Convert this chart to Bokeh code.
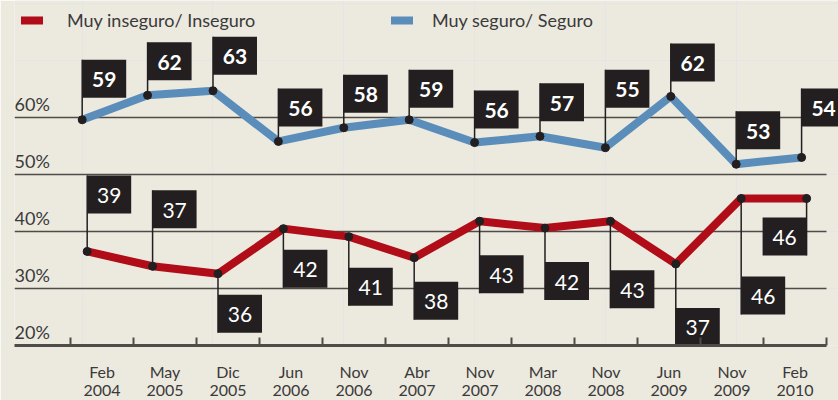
from bokeh.plotting import figure
from bokeh.models import Range1d, LinearAxis, FixedTicker, Legend, LegendItem
from bokeh.embed import file_html
from bokeh.resources import INLINE
from bokeh.core.properties import value

# ---------------- data ----------------
periods = ["Feb\n2004", "May\n2005", "Dic\n2005", "Jun\n2006", "Nov\n2006", "Abr\n2007",
           "Nov\n2007", "Mar\n2008", "Nov\n2008", "Jun\n2009", "Nov\n2009", "Feb\n2010"]
# plotted position of each point (as drawn in the original)
seguro_plot = [59.6, 63.9, 64.7, 55.8, 58.2, 59.6, 55.6, 56.7, 54.7, 63.7, 51.8, 53.0]
inseguro_plot = [36.5, 33.9, 32.6, 40.5, 39.1, 35.4, 41.8, 40.6, 41.8, 34.3, 45.8, 45.8]
# printed values
seguro_labels = [59, 62, 63, 56, 58, 59, 56, 57, 55, 62, 53, 54]
inseguro_labels = [39, 37, 36, 42, 41, 38, 43, 42, 43, 37, 46, 46]
y_ticks = [20, 30, 40, 50, 60]
series_names = ["Muy inseguro/ Inseguro", "Muy seguro/ Seguro"]

# ---------------- layout / style ----------------
BG = "#ece9df"
RED = "#b00d18"
BLUE = "#5a8dba"
INK = "#231f20"
RULE = "#4e4b48"
TXT = "#3a3a3a"
FONT = "Lato"

BL = 14
FW, FH = 824, 345
x0 = -1.035
x1 = x0 + FW / 65.4
y0 = 20
y1 = y0 + FH / 5.7
XS = FW / (x1 - x0)     # px per x unit
YS = FH / (y1 - y0)     # px per y unit
lab0 = -1.389
lab1 = lab0 + FW / 63.0

# box centre offsets from each point, in px (dy positive = up)
seg_dx = [22] * 12
seg_dy = [41, 34, 35, 34, 34, 31, 33, 34, 59, 34, 34, 50]
ins_dx = [22] * 11 + [-22]
ins_dy = [57, 57, -40, -40, -50, -43, -53, -53, -68, -63, -97, -38]
red_shift_px = 5
BOX_W, BOX_H = 44, 38

p = figure(frame_width=FW, frame_height=FH, output_backend="svg", toolbar_location=None,
           x_range=Range1d(x0, x1), y_range=Range1d(y0, y1),
           x_axis_location=None, y_axis_location=None,
           min_border_left=BL, min_border_right=0, min_border_top=0, min_border_bottom=0,
           background_fill_color=BG, border_fill_color=BG, outline_line_color=None)

n = len(periods)
p.extra_x_ranges = {"lab": Range1d(lab0, lab1)}
last_edge = n - 0.5

# horizontal rules, ending at the last category boundary
rules = y_ticks[1:]
p.segment(x0=[lab0] * len(rules), x1=[last_edge] * len(rules), y0=rules, y1=rules,
          x_range_name="lab", line_color=RULE, line_width=1.6)

# bottom axis with labels between tick marks
ax = LinearAxis(x_range_name="lab", bounds=(lab0, last_edge),
                ticker=FixedTicker(ticks=list(range(n)), minor_ticks=[k - 0.5 for k in range(n + 1)]),
                major_label_overrides={k: periods[k] for k in range(n)})
ax.major_tick_line_color = None
ax.major_tick_in = 0
ax.major_tick_out = 0
ax.minor_tick_in = 8
ax.minor_tick_out = 0
ax.minor_tick_line_width = 2
ax.minor_tick_line_color = RULE
ax.axis_line_width = 3
ax.axis_line_color = RULE
ax.major_label_standoff = 16
ax.major_label_text_font = FONT
ax.major_label_text_font_size = "16px"
ax.major_label_text_line_height = 0.95
ax.major_label_text_color = TXT
p.add_layout(ax, "below")

# y labels sitting on the rules
p.text(x=[x0] * len(y_ticks), y=y_ticks, text=[f"{v}%" for v in y_ticks],
       text_align="left", text_baseline="bottom", y_offset=-3,
       text_font=value(FONT), text_font_size="18px", text_color=TXT)

xs_blue = list(range(n))
xs_red = [i + red_shift_px / XS for i in range(n)]

red_line = p.line(xs_red, inseguro_plot, line_color=RED, line_width=8, line_cap="round")
blue_line = p.line(xs_blue, seguro_plot, line_color=BLUE, line_width=8, line_cap="round")


def flags(xs, ys, labels, dxs, dys, bold):
    bx = [x + dx / XS for x, dx in zip(xs, dxs)]
    by = [y + dy / YS for y, dy in zip(ys, dys)]
    ey = [y + (dy + (BOX_H / 2 if dy > 0 else -BOX_H / 2)) / YS for y, dy in zip(ys, dys)]
    p.segment(x0=xs, y0=ys, x1=xs, y1=ey, line_color=INK, line_width=1.5)
    p.rect(x=bx, y=by, width=BOX_W, height=BOX_H, width_units="screen", height_units="screen",
           fill_color=INK, line_color=None)
    p.text(x=bx, y=by, text=[str(v) for v in labels], text_align="center", text_baseline="middle",
           text_font=value(FONT), text_font_size="21px", text_color="white",
           text_font_style="bold" if bold else "normal", y_offset=1)


flags(xs_blue, seguro_plot, seguro_labels, seg_dx, seg_dy, True)
flags(xs_red, inseguro_plot, inseguro_labels, ins_dx, ins_dy, False)

p.scatter(xs_blue, seguro_plot, size=8, color=INK)
p.scatter(xs_red, inseguro_plot, size=8, color=INK)


def make_legend(name, r, vx, standoff):
    lg = Legend(items=[LegendItem(label=name, renderers=[r])], location=(vx, FH - 31),
                padding=0, margin=0, spacing=0, glyph_width=22, glyph_height=20,
                label_height=20, label_standoff=standoff, label_text_font=FONT,
                label_text_font_size="18px", label_text_color=TXT,
                border_line_color=None, background_fill_alpha=0)
    p.add_layout(lg)


make_legend(series_names[0], red_line, 7, 24)
make_legend(series_names[1], blue_line, 377, 19)

open("out.html", "w").write(file_html(p, INLINE))
